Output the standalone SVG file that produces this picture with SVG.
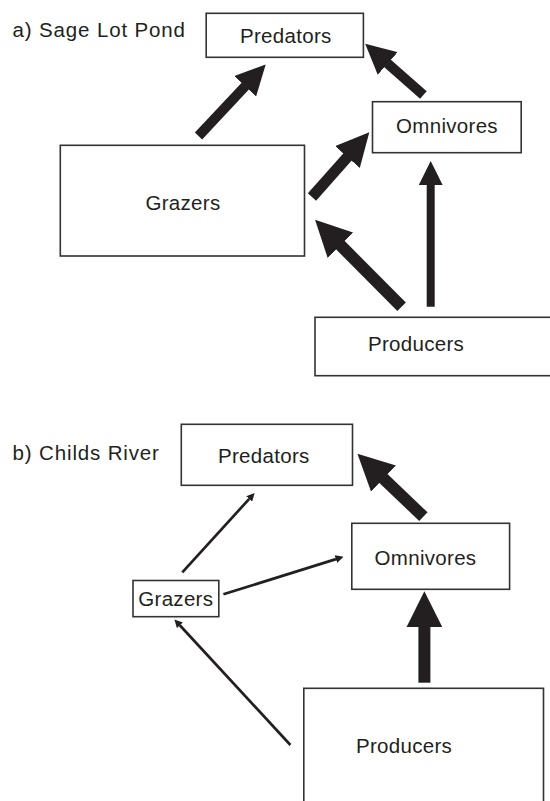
<svg xmlns="http://www.w3.org/2000/svg" width="550" height="801" viewBox="0 0 550 801">
<style>
  .box { fill: #ffffff; stroke: #333333; stroke-width: 1.6; }
  .lbl { font-family: "Liberation Sans", Arial, sans-serif; font-size: 20.5px; fill: #231f20; text-anchor: middle; letter-spacing: 0.3px; }
  .title { font-family: "Liberation Sans", Arial, sans-serif; font-size: 20.5px; fill: #231f20; letter-spacing: 0.85px; }
  .arr { fill: none; stroke: #231f20; stroke-linecap: butt; marker-end: url(#head); }
</style>
<defs>
  <marker id="head" viewBox="0 0 3 3" markerWidth="3" markerHeight="3" refX="0.05" refY="1.5" orient="auto" markerUnits="strokeWidth">
    <path d="M0,0 L3,1.5 L0,3 Z" fill="#231f20"/>
  </marker>
</defs>
<rect width="550" height="801" fill="#ffffff"/>

<text class="title" x="12.6" y="37.3">a) Sage Lot Pond</text>
<text class="title" x="12.6" y="460">b) Childs River</text>

<g id="a-predators">
  <rect class="box" x="206.2" y="13.3" width="157.2" height="44"/>
  <text class="lbl" x="285.8" y="43.3">Predators</text>
</g>
<g id="a-omnivores">
  <rect class="box" x="372.5" y="101.7" width="148.7" height="51"/>
  <text class="lbl" x="447" y="133.3">Omnivores</text>
</g>
<g id="a-grazers">
  <rect class="box" x="60.3" y="145.3" width="244.2" height="110.7"/>
  <text class="lbl" x="183" y="210">Grazers</text>
</g>
<g id="a-producers">
  <rect class="box" x="315" y="317.3" width="250" height="58.4"/>
  <text class="lbl" x="416" y="351">Producers</text>
</g>

<g id="b-predators">
  <rect class="box" x="181.3" y="424.3" width="171.2" height="61"/>
  <text class="lbl" x="263.8" y="462.7">Predators</text>
</g>
<g id="b-omnivores">
  <rect class="box" x="351.8" y="523.3" width="157.8" height="66"/>
  <text class="lbl" x="425.5" y="565">Omnivores</text>
</g>
<g id="b-grazers">
  <rect class="box" x="133" y="580.5" width="85.8" height="36.2"/>
  <text class="lbl" x="175.8" y="605.5">Grazers</text>
</g>
<g id="b-producers">
  <rect class="box" x="303.8" y="688.3" width="239.7" height="130"/>
  <text class="lbl" x="404" y="752.7">Producers</text>
</g>

<g id="connectors">
  <!-- a) Sage Lot Pond -->
  <path class="arr" stroke-width="10" d="M198.5,136 L245.5,85.9"/>
  <path class="arr" stroke-width="10" d="M423.4,95 L387.3,63.15"/>
  <path class="arr" stroke-width="11" d="M312,197 L347.8,156.6"/>
  <path class="arr" stroke-width="8" d="M430.7,306.7 L430.7,184.7"/>
  <path class="arr" stroke-width="12" d="M401.6,306.7 L340,244.8"/>
  <!-- b) Childs River -->
  <path class="arr" stroke-width="2.7" d="M182.3,572.3 L249.25,498.85"/>
  <path class="arr" stroke-width="2.7" d="M223.4,594.3 L335.97,559.1"/>
  <path class="arr" stroke-width="2.7" d="M290.4,745 L179.8,625.25"/>
  <path class="arr" stroke-width="12" d="M423.4,516.7 L383.04,478.16"/>
  <path class="arr" stroke-width="12" d="M424.4,682.7 L424.4,626.7"/>
</g>
</svg>
